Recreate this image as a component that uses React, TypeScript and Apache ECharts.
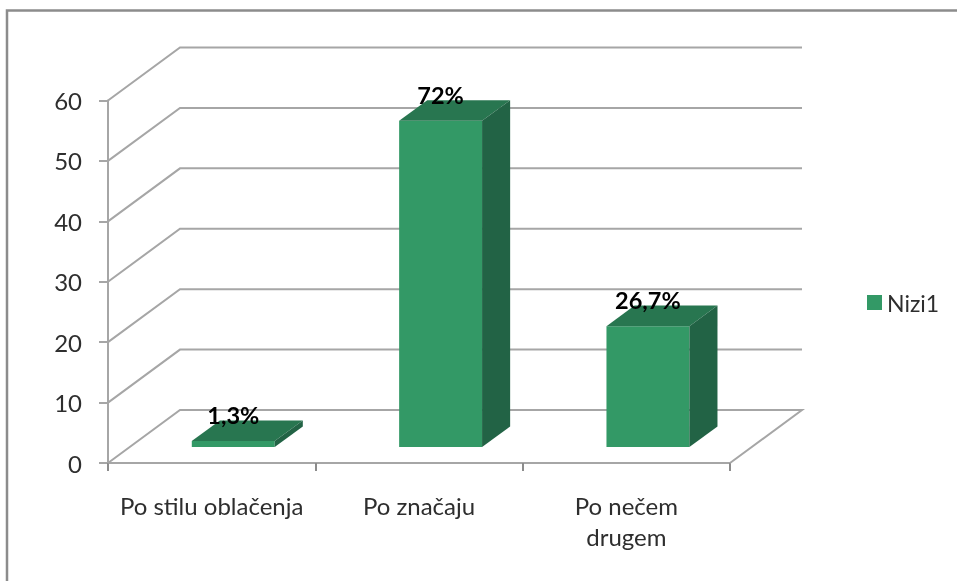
import React, { useEffect, useRef } from "react";
import * as echarts from "echarts";

const categories = ["Po stilu oblačenja", "Po značaju", "Po nečem\ndrugem"];
const seriesName = "Nizi1";
const values = [1, 54, 20];
const dataLabels = ["1,3%", "72%", "26,7%"];
const yTicks = [0, 10, 20, 30, 40, 50, 60];

const DEPTH_X = 72;
const DEPTH_Y = 53;
const GRID_COLOR = "#a6a6a6";
const TEXT_COLOR = "#2e2e2e";
const FONT = "Lato";

export default function App() {
  const ref = useRef<HTMLDivElement>(null);
  useEffect(() => {
    document.body.style.margin = "0";
    const chart = echarts.init(ref.current!, null, { renderer: "svg" });
    chart.setOption({
      animation: false,
      backgroundColor: "#ffffff",
      textStyle: { fontFamily: FONT },
      grid: { left: 108, right: 227, top: 100.5, bottom: 118 },
      graphic: [
        {
          type: "polyline",
          silent: true,
          shape: { points: [[7, 581], [7, 10.5], [957, 10.5]] },
          style: { stroke: "#8c8c8c", lineWidth: 2.5, fill: "none" },
        },
      ],
      legend: {
        left: 862,
        top: 286,
        itemWidth: 15,
        itemHeight: 15,
        data: [{ name: seriesName, icon: "rect", itemStyle: { color: "#339966" } }],
        textStyle: { fontFamily: FONT, fontSize: 23, color: TEXT_COLOR },
        selectedMode: false,
      },
      xAxis: {
        type: "category",
        data: categories,
        axisLine: { lineStyle: { color: GRID_COLOR, width: 2 } },
        axisTick: { show: true, length: 8, lineStyle: { color: "#8c8c8c", width: 2 } },
        axisLabel: {
          interval: 0,
          margin: 27,
          fontFamily: FONT,
          fontSize: 24,
          lineHeight: 31,
          color: TEXT_COLOR,
        },
      },
      yAxis: {
        type: "value",
        min: 0,
        max: 60,
        interval: 10,
        axisLine: { show: true, lineStyle: { color: GRID_COLOR, width: 2 } },
        axisTick: { show: true, length: 9, lineStyle: { color: GRID_COLOR, width: 2 } },
        splitLine: { show: false },
        axisLabel: { margin: 26, fontFamily: FONT, fontSize: 24, color: TEXT_COLOR },
      },
      series: [
        {
          type: "custom",
          name: "walls",
          silent: true,
          clip: false,
          z: 1,
          encode: { x: 0, y: 1 },
          data: yTicks.map((t) => [0, t]),
          renderItem: (_p: any, api: any) => {
            const band = api.size([1, 0])[0];
            const pt = api.coord([0, api.value(1)]);
            const x0 = pt[0] - band / 2;
            const x1 = x0 + band * categories.length;
            const y = pt[1];
            const style = { stroke: GRID_COLOR, lineWidth: 2, fill: "none" };
            const pts: number[][] = [[x0, y], [x0 + DEPTH_X, y - DEPTH_Y], [x1 + DEPTH_X, y - DEPTH_Y]];
            if (api.value(1) === 0) pts.push([x1, y]);
            return { type: "polyline", shape: { points: pts }, style };
          },
        },
        {
          type: "custom",
          name: seriesName,
          silent: true,
          clip: false,
          z: 3,
          itemStyle: { color: "#339966" },
          encode: { x: 0, y: 1 },
          data: values.map((v, i) => [categories[i], v]),
          renderItem: (p: any, api: any) => {
            const band = api.size([1, 0])[0];
            const top = api.coord([api.value(0), api.value(1)]);
            const base = api.coord([api.value(0), 0]);
            const w = band * 0.4;
            const near = 0.3;
            const deep = 0.39;
            const l = top[0] - w / 2 + DEPTH_X * near;
            const r = l + w;
            const yt = top[1] - DEPTH_Y * near;
            const yb = base[1] - DEPTH_Y * near;
            const dx = DEPTH_X * deep;
            const dy = DEPTH_Y * deep;
            return {
              type: "group",
              children: [
                {
                  type: "polygon",
                  shape: { points: [[l, yb], [r, yb], [r, yt], [l, yt]] },
                  style: { fill: "#339966" },
                },
                {
                  type: "polygon",
                  shape: { points: [[l, yt], [r, yt], [r + dx, yt - dy], [l + dx, yt - dy]] },
                  style: { fill: "#287650" },
                },
                {
                  type: "polygon",
                  shape: { points: [[r, yb], [r + dx, yb - dy], [r + dx, yt - dy], [r, yt]] },
                  style: { fill: "#226345" },
                },
                {
                  type: "text",
                  x: (l + r) / 2,
                  y: yt - 26,
                  style: {
                    text: dataLabels[p.dataIndex],
                    fontFamily: FONT,
                    fontWeight: "bold",
                    fontSize: 23.5,
                    fill: "#000000",
                    align: "center",
                    verticalAlign: "middle",
                  },
                },
              ],
            };
          },
        },
      ],
    });
    return () => chart.dispose();
  }, []);
  return (
    <div
      ref={ref}
      style={{ position: "absolute", left: 0, top: 0, width: 957, height: 581, filter: "blur(0.5px)" }}
    />
  );
}
